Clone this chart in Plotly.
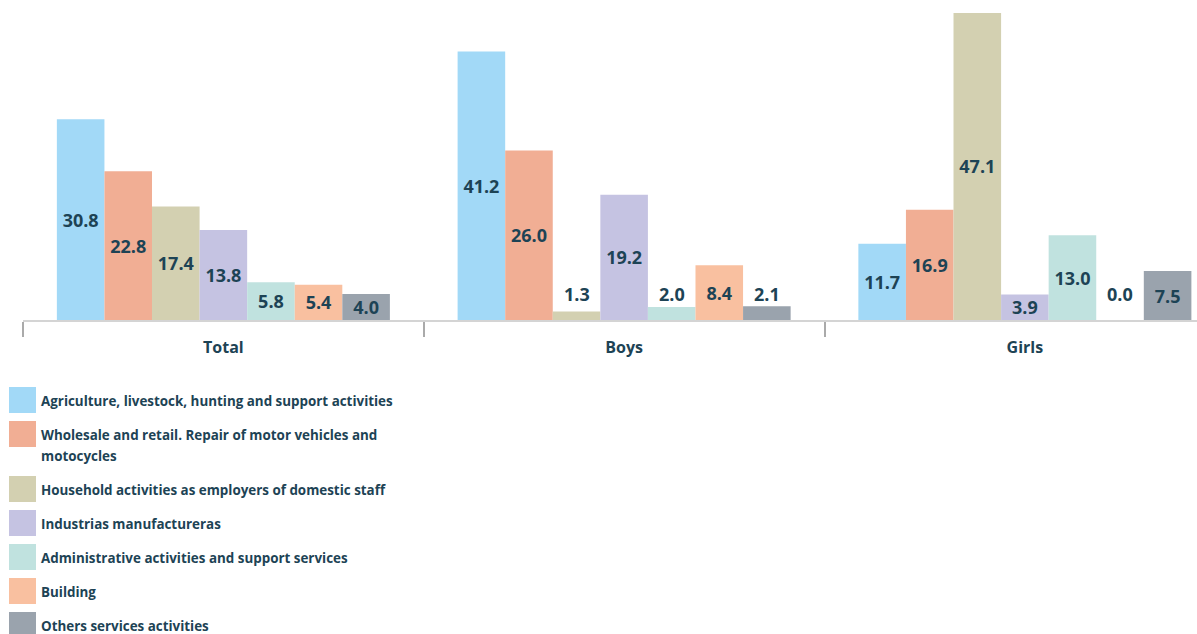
import plotly.graph_objects as go

# Share of working children by economic sector (%)
groups = ["Total", "Boys", "Girls"]
sectors = [
    "Agriculture, livestock, hunting and support activities",
    "Wholesale and retail. Repair of motor vehicles and<br>motocycles",
    "Household activities as employers of domestic staff",
    "Industrias manufactureras",
    "Administrative activities and support services",
    "Building",
    "Others services activities",
]
agriculture = [30.8, 41.2, 11.7]
wholesale = [22.8, 26.0, 16.9]
household = [17.4, 1.3, 47.1]
manufacturing = [13.8, 19.2, 3.9]
administrative = [5.8, 2.0, 13.0]
building = [5.4, 8.4, 0.0]
other_services = [4.0, 2.1, 7.5]

series = [agriculture, wholesale, household, manufacturing,
          administrative, building, other_services]
colors = ["#a2d9f7", "#f1ae94", "#d3d0b1", "#c5c3e2",
          "#c0e2df", "#f9c0a0", "#9aa3ad"]

TEXT = "#1d4355"
FONT = "Open Sans"
W, H = 1197, 634
ML, MR, MT, MB = 23, 0, 0, 314
PLOT_W = W - ML - MR
PLOT_H = H - MT - MB
BARGAP = 0.169
CAT_PX = 400.75          # pixel width of one category slot
Y_MAX = PLOT_H / 6.52    # data units shown over the plot height
INSIDE_MIN = 3.5         # smaller bars get their label above
LABEL_FLOOR = 4.0        # height (data units) of labels for small bars

fig = go.Figure()
n = len(series)
annotations = []
for i, (name, vals, col) in enumerate(zip(sectors, series, colors)):
    texts = [f"{v:.1f}" if v >= INSIDE_MIN else "" for v in vals]
    fig.add_trace(go.Bar(
        name=name.replace("<br>", " "), x=groups, y=vals, marker_color=col,
        marker_line_width=0, text=texts, textposition="inside",
        insidetextanchor="middle", textangle=0, constraintext="none",
        textfont=dict(family=FONT, size=18, color=TEXT, weight="bold"),
        showlegend=False, hoverinfo="skip",
    ))
    grp = 1 - BARGAP
    off = -grp / 2 + (i + 0.5) * grp / n
    for j, v in enumerate(vals):
        if v < INSIDE_MIN:
            annotations.append(dict(
                x=j + off, y=LABEL_FLOOR, xref="x", yref="y",
                text=f"<b>{v:.1f}</b>", showarrow=False, yanchor="middle",
                font=dict(family=FONT, size=18, color=TEXT),
            ))

# Legend drawn below the chart as swatches with labels
def px_to_paper(px, py):
    return (px - ML) / PLOT_W, (MT + PLOT_H - py) / PLOT_H

shapes = []
row_top = 387
SW = 27
ROW_H = 34
LINE_H = 21
for name, col in zip(sectors, colors):
    lines = name.split("<br>")
    x0, y0 = px_to_paper(9, row_top)
    x1, y1 = px_to_paper(9 + SW, row_top + SW - 1)
    shapes.append(dict(type="rect", xref="paper", yref="paper",
                       x0=x0, x1=x1, y0=y1, y1=y0, fillcolor=col,
                       line_width=0, layer="above"))
    for k, line in enumerate(lines):
        tx, ty = px_to_paper(39, row_top + 14 + k * LINE_H)
        annotations.append(dict(
            x=tx, y=ty, xref="paper", yref="paper",
            xanchor="left", yanchor="middle",
            text=f"<b>{line}</b>", showarrow=False, align="left",
            font=dict(family=FONT, size=13.4, color=TEXT),
        ))
    row_top += ROW_H + (len(lines) - 1) * LINE_H

fig.update_layout(
    width=W, height=H,
    margin=dict(l=ML, r=MR, t=MT, b=MB),
    barmode="group", bargap=BARGAP, bargroupgap=0,
    plot_bgcolor="white", paper_bgcolor="white",
    showlegend=False,
    annotations=annotations, shapes=shapes,
    xaxis=dict(
        type="category", range=[-0.5, -0.5 + PLOT_W / CAT_PX],
        tickson="boundaries", ticks="outside", ticklen=15,
        tickcolor="#aaaaaa", tickwidth=1.5, ticklabelstandoff=12,
        showline=True, linecolor="#d4d4d4", linewidth=2,
        showgrid=False, zeroline=False,
        tickfont=dict(family=FONT, size=16, color=TEXT, weight="bold"),
    ),
    yaxis=dict(range=[0, Y_MAX], visible=False, showgrid=False, zeroline=False),
)

fig.write_html("out.html")
